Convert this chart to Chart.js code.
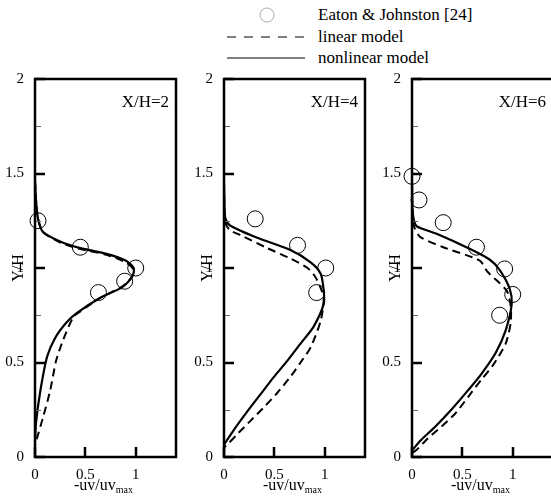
<!DOCTYPE html>
<html>
<head>
<meta charset="utf-8">
<script src="https://cdn.jsdelivr.net/npm/chart.js@4"></script>
<style>
  html, body { margin: 0; padding: 0; background: #fff; overflow: hidden; width: 551px; height: 498px; }
  body { position: relative; font-family: "Liberation Serif", "Times New Roman", serif; color: #000; }
  .panel { position: absolute; top: 60px; }
  .leg-text { position: absolute; font-size: 17px; line-height: 17px; white-space: nowrap; }
  #legend-marks { position: absolute; left: 0; top: 0; }
</style>
</head>
<body>
<svg id="legend-marks" width="551" height="70">
  <circle cx="267" cy="15" r="7" fill="none" stroke="#aaa" stroke-width="1"/>
  <line x1="227" y1="37" x2="305" y2="37" stroke="#000" stroke-width="1" stroke-dasharray="9,8"/>
  <line x1="227" y1="58" x2="305" y2="58" stroke="#000" stroke-width="1"/>
</svg>
<div class="leg-text" style="left:318px;top:6px;">Eaton &amp; Johnston [24]</div>
<div class="leg-text" style="left:318px;top:28px;">linear model</div>
<div class="leg-text" style="left:318px;top:49px;">nonlinear model</div>

<canvas id="p2" class="panel" width="186" height="438" style="left:0px"></canvas>
<canvas id="p4" class="panel" width="186" height="438" style="left:189px"></canvas>
<canvas id="p6" class="panel" width="186" height="438" style="left:377px"></canvas>

<script>
// Axis ticks
const yMajorTicks = [0, 0.5, 1, 1.5, 2];
const yMinorTicks = [0.25, 0.75, 1.25, 1.75];
const xMajorTicks = [0, 0.5, 1];

// Stations
const stations = ['X/H=2', 'X/H=4', 'X/H=6'];

// Measured profiles, [ -uv/uv_max , Y/H ]
const exp2 = [[0.03, 1.25], [0.45, 1.11], [1.0, 1.0], [0.89, 0.93], [0.63, 0.87]];
const exp4 = [[0.31, 1.26], [0.73, 1.12], [1.01, 1.0], [0.92, 0.87]];
const exp6 = [[0, 1.485], [0.07, 1.36], [0.31, 1.24], [0.64, 1.11], [0.92, 0.995], [1.0, 0.86], [0.87, 0.75]];

// Linear model profiles
const lin2 = [[0, 1.46], [0.01, 1.36], [0.03, 1.26], [0.08, 1.19], [0.25, 1.135], [0.45, 1.1], [0.71, 1.07],
  [0.9, 1.03], [0.98, 0.99], [0.96, 0.95], [0.86, 0.9], [0.64, 0.84], [0.45, 0.77], [0.38, 0.74],
  [0.28, 0.62], [0.21, 0.51], [0.15, 0.35], [0.08, 0.21], [0.02, 0.1], [0, 0.06]];
const lin4 = [[0, 1.45], [0.005, 1.3], [0.02, 1.23], [0.06, 1.2], [0.16, 1.175], [0.43, 1.105], [0.66, 1.05],
  [0.83, 1.0], [0.91, 0.95], [0.97, 0.88], [0.99, 0.83], [0.96, 0.72], [0.86, 0.58], [0.76, 0.5],
  [0.66, 0.425], [0.53, 0.34], [0.39, 0.26], [0.26, 0.19], [0.14, 0.125], [0.05, 0.075], [0, 0.05]];
const lin6 = [[0, 1.45], [0.005, 1.3], [0.02, 1.22], [0.08, 1.165], [0.31, 1.11], [0.67, 1.04], [0.75, 0.98],
  [0.94, 0.88], [0.98, 0.8], [0.98, 0.71], [0.93, 0.6], [0.81, 0.49], [0.69, 0.41], [0.56, 0.32],
  [0.43, 0.23], [0.29, 0.16], [0.16, 0.1], [0.05, 0.04], [0, 0.02]];

// Nonlinear model profiles
const nonlin2 = [[0, 1.46], [0.01, 1.36], [0.03, 1.26], [0.08, 1.19], [0.25, 1.14], [0.45, 1.105], [0.71, 1.075],
  [0.9, 1.04], [0.98, 1.0], [0.97, 0.96], [0.87, 0.9], [0.64, 0.84], [0.41, 0.76], [0.31, 0.71],
  [0.2, 0.63], [0.12, 0.53], [0.05, 0.34], [0.01, 0.18], [0, 0.08]];
const nonlin4 = [[0, 1.45], [0.005, 1.32], [0.015, 1.26], [0.06, 1.225], [0.33, 1.16], [0.66, 1.095], [0.86, 1.03],
  [0.96, 0.97], [0.99, 0.88], [0.99, 0.81], [0.89, 0.69], [0.76, 0.6], [0.63, 0.51], [0.49, 0.42],
  [0.36, 0.33], [0.23, 0.24], [0.1, 0.145], [0, 0.065]];
const nonlin6 = [[0, 1.45], [0.005, 1.31], [0.02, 1.25], [0.05, 1.22], [0.25, 1.18], [0.54, 1.11], [0.77, 1.045],
  [0.87, 0.99], [0.97, 0.89], [0.99, 0.81], [0.93, 0.67], [0.83, 0.55], [0.69, 0.44], [0.56, 0.355],
  [0.39, 0.25], [0.23, 0.16], [0.09, 0.09], [0, 0.035]];

const FONT = '"Liberation Serif", "Times New Roman", serif';
const toPts = arr => arr.map(([x, y]) => ({ x, y }));

// Frame, inward tick marks, axis titles and station label
const framePlugin = {
  id: 'frame',
  afterDraw(chart, args, opts) {
    const { ctx, chartArea: a } = chart;
    const x = chart.scales.x, y = chart.scales.y;
    ctx.save();
    // minor ticks on the left axis
    ctx.lineWidth = 1;
    ctx.strokeStyle = '#666';
    yMinorTicks.forEach(v => {
      const py = Math.round(y.getPixelForValue(v)) + 0.5;
      ctx.beginPath(); ctx.moveTo(a.left, py); ctx.lineTo(a.left + 6, py); ctx.stroke();
    });
    // major ticks, pointing inward
    ctx.strokeStyle = '#000';
    ctx.lineWidth = 2.5;
    yMajorTicks.forEach(v => {
      const py = Math.round(y.getPixelForValue(v));
      ctx.beginPath(); ctx.moveTo(a.left, py); ctx.lineTo(a.left + 10, py); ctx.stroke();
    });
    xMajorTicks.forEach(v => {
      const px = Math.round(x.getPixelForValue(v));
      ctx.beginPath(); ctx.moveTo(px, a.bottom); ctx.lineTo(px, a.bottom - 10); ctx.stroke();
    });
    // box around the plot area
    ctx.lineWidth = 2.5;
    ctx.strokeRect(Math.round(a.left), Math.round(a.top), Math.round(a.right - a.left), Math.round(a.bottom - a.top));

    ctx.fillStyle = '#000';
    // station label
    ctx.font = '17px ' + FONT;
    ctx.textAlign = 'right';
    ctx.textBaseline = 'alphabetic';
    ctx.fillText(opts.station, a.right - 7, a.top + 28);
    // x-axis title with subscript
    const main = '-uv/uv', sub = 'max';
    ctx.font = '16px ' + FONT;
    const wMain = ctx.measureText(main).width;
    ctx.font = '10px ' + FONT;
    const wSub = ctx.measureText(sub).width;
    const x0 = (a.left + a.right) / 2 - (wMain + wSub) / 2 - 2;
    ctx.textAlign = 'left';
    ctx.font = '16px ' + FONT;
    ctx.fillText(main, x0, a.bottom + 33);
    ctx.font = '10px ' + FONT;
    ctx.fillText(sub, x0 + wMain, a.bottom + 36);
    // y-axis title
    ctx.font = '16px ' + FONT;
    ctx.translate(a.left - 12, (a.top + a.bottom) / 2);
    ctx.rotate(-Math.PI / 2);
    ctx.textAlign = 'center';
    ctx.fillText('Y/H', 0, 0);
    ctx.restore();
  }
};

function makePanel(id, station, exp, lin, nonlin) {
  new Chart(document.getElementById(id), {
    type: 'scatter',
    data: {
      datasets: [
        {
          label: 'nonlinear model', data: toPts(nonlin), showLine: true,
          borderColor: '#000', borderWidth: 2.2, pointRadius: 0, tension: 0.25, fill: false, clip: false
        },
        {
          label: 'linear model', data: toPts(lin), showLine: true,
          borderColor: '#000', borderWidth: 2, borderDash: [8, 5], pointRadius: 0, tension: 0.25, fill: false, clip: false
        },
        {
          label: 'Eaton & Johnston [24]', data: toPts(exp), showLine: false,
          pointStyle: 'circle', pointRadius: 8, borderColor: '#000', borderWidth: 1,
          backgroundColor: 'rgba(0,0,0,0)', clip: false
        }
      ]
    },
    options: {
      responsive: false,
      animation: false,
      devicePixelRatio: 1,
      layout: { padding: { top: 19, right: 10, left: 0, bottom: 0 } },
      plugins: { legend: { display: false }, tooltip: { enabled: false }, frame: { station } },
      scales: {
        x: {
          type: 'linear', min: 0, max: 1.4,
          grid: { display: false }, border: { display: false },
          afterBuildTicks: s => { s.ticks = xMajorTicks.map(v => ({ value: v })); },
          afterFit: s => { s.height = 41; },
          ticks: { color: '#000', font: { family: FONT, size: 15 }, padding: 1, maxRotation: 0,
                   callback: v => String(v) }
        },
        y: {
          type: 'linear', min: 0, max: 2,
          grid: { display: false }, border: { display: false },
          afterBuildTicks: s => { s.ticks = yMajorTicks.map(v => ({ value: v })); },
          afterFit: s => { s.width = 35; },
          ticks: { color: '#000', font: { family: FONT, size: 15 }, padding: 3,
                   callback: v => String(v) }
        }
      }
    },
    plugins: [framePlugin]
  });
}

makePanel('p2', stations[0], exp2, lin2, nonlin2);
makePanel('p4', stations[1], exp4, lin4, nonlin4);
makePanel('p6', stations[2], exp6, lin6, nonlin6);
</script>
</body>
</html>
